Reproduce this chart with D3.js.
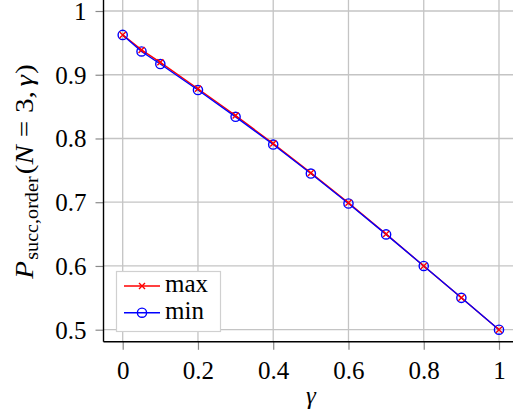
<!DOCTYPE html>
<html>
<head>
<meta charset="utf-8">
<script src="https://cdn.jsdelivr.net/npm/d3@7"></script>
<style>
  html, body { margin: 0; padding: 0; background: #fff; }
  svg text { font-family: "Liberation Serif", "Times New Roman", serif; }
</style>
</head>
<body>
<div id="chart"></div>
<script>
// data
var gammas = [0, 0.05, 0.1, 0.2, 0.3, 0.4, 0.5, 0.6, 0.7, 0.8, 0.9, 1];
var maxValues = [0.9625, 0.939, 0.9195, 0.878, 0.836, 0.792, 0.746, 0.699, 0.65, 0.6, 0.55, 0.5];
var minValues = [0.9625, 0.9365, 0.9168, 0.876, 0.834, 0.7905, 0.745, 0.698, 0.6495, 0.6, 0.55, 0.5];
var xTicks = [0, 0.2, 0.4, 0.6, 0.8, 1];
var yTicks = [0.5, 0.6, 0.7, 0.8, 0.9, 1];
var seriesNames = ["max", "min"];

var width = 513, height = 417;

var x = d3.scaleLinear().domain([0, 1]).range([122.7, 499]);
var y = d3.scaleLinear().domain([0.5, 1]).range([329.7, 11]);

var xMin = -0.051, yMin = 0.481;   // where the axis lines sit
var left = x(xMin), bottom = y(yMin);

var svg = d3.select("#chart").append("svg")
    .attr("width", width)
    .attr("height", height);

// grid
svg.append("g").selectAll("line")
    .data(xTicks)
    .enter().append("line")
    .attr("x1", function (d) { return x(d); })
    .attr("x2", function (d) { return x(d); })
    .attr("y1", 0)
    .attr("y2", bottom)
    .attr("stroke", "#c4c4c4")
    .attr("stroke-width", 1.3);

svg.append("g").selectAll("line")
    .data(yTicks)
    .enter().append("line")
    .attr("x1", left)
    .attr("x2", width)
    .attr("y1", function (d) { return y(d); })
    .attr("y2", function (d) { return y(d); })
    .attr("stroke", "#c4c4c4")
    .attr("stroke-width", 1.3);

// axes with outside ticks
var xAxis = d3.axisBottom(x).tickValues(xTicks).tickSize(8).tickPadding(11)
    .tickFormat(function (d) { return d3.format("")(d); });
var yAxis = d3.axisLeft(y).tickValues(yTicks).tickSize(8).tickPadding(9)
    .tickFormat(function (d) { return d3.format("")(d); });

var gx = svg.append("g").attr("transform", "translate(0," + bottom + ")").call(xAxis);
var gy = svg.append("g").attr("transform", "translate(" + left + ",0)").call(yAxis);

[gx, gy].forEach(function (g) {
    g.attr("font-family", null).attr("font-size", null);
    g.select(".domain").remove();
    g.selectAll(".tick line").attr("stroke", "#8a8a8a").attr("stroke-width", 1.2);
    g.selectAll(".tick text")
        .attr("fill", "#000")
        .style("font-size", "25px");
});
gx.selectAll(".tick text").attr("dy", "0.71em");
gy.selectAll(".tick text").attr("dy", "0.34em");

// axis lines
svg.append("line")
    .attr("x1", left).attr("x2", left)
    .attr("y1", 0).attr("y2", bottom)
    .attr("stroke", "#000").attr("stroke-width", 1.4);
svg.append("line")
    .attr("x1", left).attr("x2", width)
    .attr("y1", bottom).attr("y2", bottom)
    .attr("stroke", "#000").attr("stroke-width", 1.4);

// series
var series = [
    { name: seriesNames[0], values: maxValues, color: "#ff0000", mark: "cross" },
    { name: seriesNames[1], values: minValues, color: "#0000ff", mark: "circle" }
];

var line = d3.line()
    .x(function (d) { return x(d[0]); })
    .y(function (d) { return y(d[1]); });

series.forEach(function (s) {
    svg.append("path")
        .datum(d3.zip(gammas, s.values))
        .attr("fill", "none")
        .attr("stroke", s.color)
        .attr("stroke-width", 1.4)
        .attr("d", line);
});

function drawMark(g, s, cx, cy) {
    if (s.mark === "circle") {
        g.append("circle")
            .attr("cx", cx).attr("cy", cy).attr("r", 4.6)
            .attr("fill", "none")
            .attr("stroke", s.color)
            .attr("stroke-width", 1.4);
    } else {
        var r = 3;
        g.append("path")
            .attr("d", "M" + (cx - r) + "," + (cy - r) + "L" + (cx + r) + "," + (cy + r) +
                "M" + (cx - r) + "," + (cy + r) + "L" + (cx + r) + "," + (cy - r))
            .attr("stroke", s.color)
            .attr("stroke-width", 1.4);
    }
}

// markers on top of all lines: circles first, crosses last
[series[1], series[0]].forEach(function (s) {
    var g = svg.append("g");
    gammas.forEach(function (gm, i) {
        drawMark(g, s, x(gm), y(s.values[i]));
    });
});

// legend
var legend = svg.append("g");
legend.append("rect")
    .attr("x", 116.5).attr("y", 271.5)
    .attr("width", 104).attr("height", 60)
    .attr("fill", "#fff")
    .attr("stroke", "#d0d0d0")
    .attr("stroke-width", 1.2);

series.forEach(function (s, i) {
    var ly = 286 + i * 26.7;
    legend.append("line")
        .attr("x1", 124).attr("x2", 160)
        .attr("y1", ly).attr("y2", ly)
        .attr("stroke", s.color).attr("stroke-width", 1.4);
    drawMark(legend, s, 142, ly);
    legend.append("text")
        .attr("x", 165).attr("y", ly + 6)
        .style("font-size", "25px")
        .text(s.name);
});

// axis labels
svg.append("text")
    .attr("x", x(0.5)).attr("y", 404)
    .attr("text-anchor", "middle")
    .style("font-size", "25px")
    .style("font-style", "italic")
    .text("γ");

var yl = svg.append("text")
    .attr("transform", "translate(33,171.5) rotate(-90) scale(1.12,1)")
    .attr("text-anchor", "middle")
    .style("font-size", "26px");
yl.append("tspan").style("font-style", "italic").text("P");
yl.append("tspan").attr("dy", 5).attr("dx", 1).style("font-size", "18px").text("succ,order");
yl.append("tspan").attr("dy", -5).attr("dx", 2).text("(");
yl.append("tspan").style("font-style", "italic").text("N");
yl.append("tspan").attr("dx", 7).text("=");
yl.append("tspan").attr("dx", 7).text("3,");
yl.append("tspan").attr("dx", 4).style("font-style", "italic").text("γ");
yl.append("tspan").attr("dx", 1).text(")");
</script>
</body>
</html>
